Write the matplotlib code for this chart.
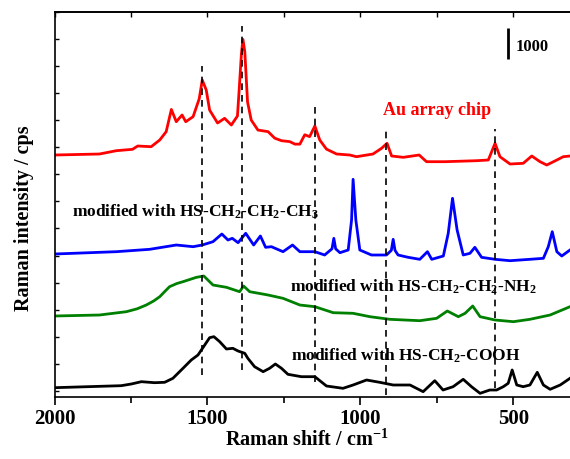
import matplotlib
matplotlib.use("Agg")
import matplotlib.pyplot as plt
from matplotlib.ticker import MultipleLocator, NullFormatter

plt.rcParams['font.family'] = ['Liberation Serif', 'DejaVu Serif']
plt.rcParams['font.weight'] = 'bold'
plt.rcParams['mathtext.fontset'] = 'custom'
plt.rcParams['mathtext.rm'] = 'Liberation Serif:bold'
plt.rcParams['mathtext.it'] = 'Liberation Serif:bold'
plt.rcParams['mathtext.bf'] = 'Liberation Serif:bold'

# ---- data (Raman shift in cm-1, offset intensity in cps) ----
red_x = [2000, 1853, 1798, 1745, 1728, 1684, 1656, 1635, 1618, 1602, 1583, 1571, 1547, 1527,
         1517, 1504, 1493, 1467, 1444, 1422, 1402, 1396, 1389, 1384, 1378, 1369, 1357, 1335,
         1302, 1280, 1258, 1231, 1214, 1198, 1182, 1166, 1149, 1133, 1111, 1078, 1035, 1013,
         959, 931, 913, 898, 860, 808, 784, 724, 620, 582, 560, 544, 511, 468, 440, 413, 391,
         358, 337, 315]
red_y = [7552, 7584, 7690, 7734, 7840, 7818, 8032, 8298, 9010, 8618, 8832, 8618, 8778, 9350,
         9952, 9632, 8990, 8576, 8726, 8512, 8800, 9700, 10800, 11250, 10860, 9250, 8670, 8350,
         8300, 8090, 8010, 7980, 7900, 7900, 8200, 8140, 8480, 8032, 7740, 7584, 7552, 7498,
         7584, 7766, 7926, 7520, 7478, 7552, 7338, 7338, 7370, 7392, 7926, 7498, 7264, 7286,
         7520, 7338, 7232, 7392, 7498, 7520]

blue_x = [2000, 1798, 1689, 1602, 1547, 1517, 1482, 1453, 1433, 1419, 1400, 1375, 1349, 1327,
          1310, 1291, 1253, 1222, 1198, 1149, 1117, 1093, 1087, 1081, 1067, 1040, 1029, 1024,
          1015, 1002, 964, 915, 899, 893, 887, 877, 844, 806, 781, 767, 729, 713, 699, 684,
          664, 642, 626, 604, 560, 511, 446, 402, 386, 373, 358, 342, 315]
blue_y = [4384, 4458, 4534, 4672, 4618, 4672, 4778, 5024, 4832, 4886, 4746, 5046, 4672, 4960,
          4598, 4618, 4458, 4672, 4458, 4458, 4352, 4550, 4886, 4550, 4426, 4512, 5472, 6774,
          5472, 4512, 4352, 4352, 4500, 4854, 4500, 4352, 4278, 4214, 4458, 4214, 4320, 5046,
          6166, 5152, 4352, 4406, 4598, 4278, 4214, 4170, 4214, 4246, 4618, 5098, 4458, 4320,
          4512]

green_x = [2000, 1853, 1765, 1730, 1700, 1676, 1656, 1640, 1624, 1600, 1580, 1536, 1512, 1482,
           1438, 1395, 1382, 1362, 1302, 1253, 1198, 1149, 1089, 1024, 969, 904, 806, 751, 716,
           680, 658, 633, 609, 560, 500, 446, 380, 315]
green_y = [2400, 2432, 2538, 2630, 2752, 2880, 3018, 3180, 3338, 3440, 3498, 3638, 3680, 3392,
           3318, 3178, 3360, 3178, 3072, 2966, 2752, 2698, 2506, 2486, 2378, 2294, 2250, 2326,
           2560, 2378, 2486, 2720, 2378, 2272, 2218, 2294, 2432, 2698]

black_x = [2000, 1891, 1782, 1749, 1716, 1673, 1640, 1613, 1580, 1553, 1531, 1509, 1493, 1479,
           1460, 1438, 1417, 1400, 1378, 1368, 1346, 1318, 1297, 1278, 1258, 1237, 1193, 1149,
           1111, 1057, 1024, 980, 937, 893, 838, 795, 757, 730, 697, 664, 637, 609, 577, 555,
           533, 517, 504, 489, 468, 446, 422, 402, 380, 347, 315]
black_y = [106, 138, 170, 224, 298, 266, 278, 406, 726, 992, 1152, 1472, 1706, 1738,
           1578, 1344, 1366, 1280, 1206, 1046, 778, 618, 726, 864, 726, 534, 458, 458,
           160, 86, 192, 352, 278, 192, 192, -22, 330, 32, 138, 374, 138, -74, 32, 32,
           138, 246, 672, 192, 138, 192, 598, 192, 54, 192, 406]

series = [(red_x, red_y, '#ff0000'), (blue_x, blue_y, '#0000ff'),
          (green_x, green_y, '#008000'), (black_x, black_y, '#000000')]

# dashed guide lines: position, top, bottom
guide_x = [1517, 1387, 1150, 916, 561]
guide_top = [10400, 11680, 9098, 8320, 8384]
guide_bot = [512, 672, 288, -128, 96]

labels = ['Au array chip',
          r'modified with HS-CH$_2$-CH$_2$-CH$_3$',
          r'modified with HS-CH$_2$-CH$_2$-NH$_2$',
          r'modified with HS-CH$_2$-COOH']
label_x = [926, 1944, 1231, 1226]
label_y = [8832, 5578, 3178, 960]
label_c = ['#ff0000', 'black', 'black', 'black']

scale_x = 519
scale_bottom = 10614
scale_len = 1000

fig = plt.figure(figsize=(5.7, 4.59), dpi=100)
ax = fig.add_axes([54.5 / 570, 62 / 459, (570 - 54.5) / 570, 385.3 / 459])

for x, y, c in series:
    ax.plot(x, y, color=c, lw=2.0, solid_joinstyle='round')

for gx, gt, gb in zip(guide_x, guide_top, guide_bot):
    ax.vlines(gx, gb, gt, colors='black', linestyles=(0, (4, 3)), lw=1.2)

for t, x, y, c in zip(labels, label_x, label_y, label_c):
    ax.text(x, y, t, color=c, fontsize=13 if c != 'black' else 12.5,
            fontweight='bold', ha='left', va='baseline')

ax.vlines(scale_x, scale_bottom, scale_bottom + scale_len, colors='black', lw=2.0)
ax.text(492, 10890, '1000', fontsize=12, fontweight='bold', ha='left', va='baseline')

ax.set_xlim(2000, 315)
ax.set_ylim(-192, 12138)

ax.spines['right'].set_visible(False)
for s in ['left', 'top', 'bottom']:
    ax.spines[s].set_linewidth(1.2)

ax.xaxis.set_major_locator(MultipleLocator(500))
ax.xaxis.set_minor_locator(MultipleLocator(250))
ax.tick_params(axis='x', which='major', direction='out', length=6, width=1.2,
               labelsize=15, pad=3, top=False)
ax.tick_params(axis='x', which='minor', direction='out', length=4, width=1.2, top=False)
for lab in ax.get_xticklabels():
    lab.set_fontweight('bold')

ax.yaxis.set_major_locator(MultipleLocator(867))
ax.tick_params(axis='y', which='major', direction='in', length=3, width=1.0,
               labelleft=False, right=False)

sec = ax.secondary_xaxis('top')
sec.xaxis.set_major_locator(MultipleLocator(250))
sec.xaxis.set_major_formatter(NullFormatter())
sec.tick_params(direction='in', length=3.5, width=1.0)
sec.spines['top'].set_linewidth(1.2)

fig.text(307 / 570, 1 - 440 / 459, r'Raman shift / cm$^{-1}$', fontsize=14.5,
         fontweight='bold', ha='center', va='center')
fig.text(24 / 570, 1 - 218 / 459, 'Raman intensity / cps', fontsize=14.5,
         fontweight='bold', ha='center', va='center', rotation=90)

fig.savefig('out.png', dpi=100)
